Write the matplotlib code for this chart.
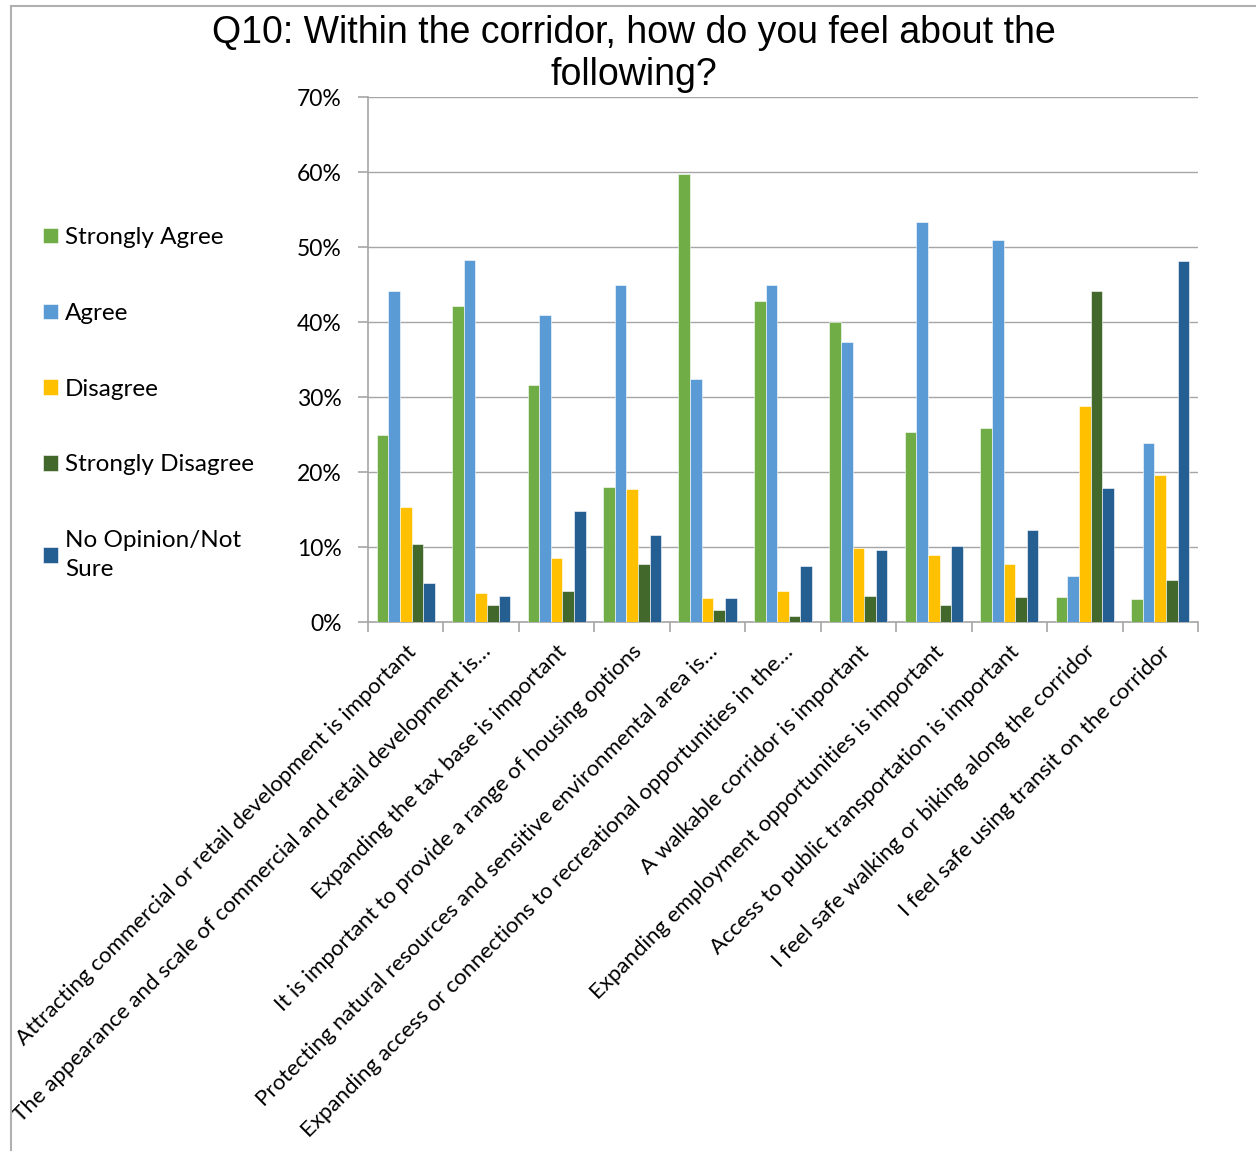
import numpy as np
import matplotlib.pyplot as plt
from matplotlib.lines import Line2D
from matplotlib.ticker import MultipleLocator, FuncFormatter

categories = [
    'Attracting commercial or retail development is important',
    'The appearance and scale of commercial and retail development is\u2026',
    'Expanding the tax base is important',
    'It is important to provide a range of housing options',
    'Protecting natural resources and sensitive environmental area is\u2026',
    'Expanding access or connections to recreational opportunities in the\u2026',
    'A walkable corridor is important',
    'Expanding employment opportunities is important',
    'Access to public transportation is important',
    'I feel safe walking or biking along the corridor',
    'I feel safe using transit on the corridor',
]
series_names = ['Strongly Agree', 'Agree', 'Disagree', 'Strongly Disagree', 'No Opinion/Not\nSure']
strongly_agree = [24.9, 42.1, 31.6, 18.0, 59.7, 42.8, 40.0, 25.3, 25.9, 3.3, 3.1]
agree = [44.1, 48.3, 40.9, 44.9, 32.4, 44.9, 37.3, 53.3, 50.9, 6.1, 23.9]
disagree = [15.3, 3.9, 8.5, 17.7, 3.2, 4.1, 9.9, 8.9, 7.7, 28.8, 19.6]
strongly_disagree = [10.4, 2.3, 4.1, 7.7, 1.6, 0.8, 3.5, 2.3, 3.3, 44.1, 5.6]
no_opinion = [5.2, 3.5, 14.8, 11.6, 3.2, 7.5, 9.6, 10.1, 12.3, 17.9, 48.1]
colors = ['#70AD47', '#5B9BD5', '#FFC000', '#43682B', '#255E91']

label_font = ['Lato', 'DejaVu Sans']
title_font = ['Liberation Sans', 'DejaVu Sans']

fig = plt.figure(figsize=(12.56, 11.51), dpi=100)
ax = fig.add_axes([0.293, 0.4596, 0.6608, 0.4561])

x = np.arange(len(categories))
w = 0.154
all_series = [strongly_agree, agree, disagree, strongly_disagree, no_opinion]
handles = []
for i, vals in enumerate(all_series):
    b = ax.bar(x + (i - 2) * w, vals, width=w, color=colors[i],
               edgecolor='white', linewidth=0.4, zorder=3, label=series_names[i])
    handles.append(b)

ax.set_xlim(-0.5, len(categories) - 0.5)
ax.set_ylim(0, 70)
ax.yaxis.set_major_locator(MultipleLocator(10))
ax.yaxis.set_major_formatter(FuncFormatter(lambda v, p: f'{v:.0f}%'))
ax.grid(axis='y', color='#A6A6A6', linewidth=1, zorder=0)

for s in ['top', 'right']:
    ax.spines[s].set_visible(False)
for s in ['left', 'bottom']:
    ax.spines[s].set_color('#A6A6A6')
    ax.spines[s].set_linewidth(1.2)

ax.set_xticks(np.arange(len(categories) + 1) - 0.5, minor=False)
ax.set_xticklabels([])
ax.tick_params(axis='x', which='major', length=7, color='#A6A6A6', width=1.2)
ax.set_xticks(x, minor=True)
ax.set_xticklabels(categories, minor=True, rotation=45, ha='right', va='top',
                   rotation_mode='anchor', fontsize=16, family=label_font)
ax.tick_params(axis='x', which='minor', length=0, pad=14)
ax.tick_params(axis='y', length=7, color='#A6A6A6', width=1.2, pad=12)
for t in ax.get_yticklabels():
    t.set_fontsize(16.5)
    t.set_family(label_font)

# title, one text per line
fig.text(0.505, 0.9715, 'Q10: Within the corridor, how do you feel about the',
         ha='center', va='center', fontsize=27, family=title_font)
fig.text(0.505, 0.9345, 'following?',
         ha='center', va='center', fontsize=27, family=title_font)

leg = fig.legend(handles=handles, loc='upper left', bbox_to_anchor=(0.0342, 0.8025),
                 frameon=False, prop={'family': label_font, 'size': 17.5},
                 handlelength=0.6, handleheight=0.6, handletextpad=0.3,
                 labelspacing=2.25, borderpad=0, borderaxespad=0)
leg.get_texts()[-1].set_linespacing(1.45)

# outer frame (left and top edges visible)
fig.add_artist(Line2D([0.0088, 0.0088], [0, 0.995], transform=fig.transFigure,
                      color='#B0B0B0', linewidth=1.5))
fig.add_artist(Line2D([0.0088, 1], [0.995, 0.995], transform=fig.transFigure,
                      color='#B0B0B0', linewidth=1.5))

fig.savefig('out.png', dpi=100)
